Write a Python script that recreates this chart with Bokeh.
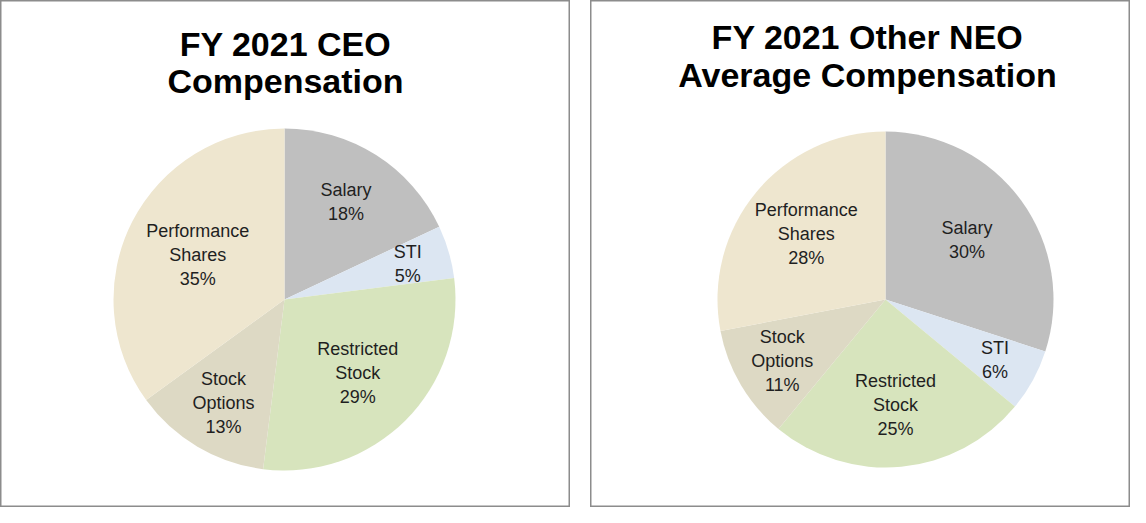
import numpy as np
from bokeh.plotting import figure
from bokeh.layouts import row
from bokeh.models import ColumnDataSource
from bokeh.core.properties import value
from bokeh.embed import file_html
from bokeh.resources import INLINE

# ---- data ----
categories = ["Salary", "STI", "Restricted Stock", "Stock Options", "Performance Shares"]
label_names = ["Salary", "STI", "Restricted\nStock", "Stock\nOptions", "Performance\nShares"]
ceo_values = [18, 5, 29, 13, 35]
neo_values = [30, 6, 25, 11, 28]
ceo_title = ["FY 2021 CEO", "Compensation"]
neo_title = ["FY 2021 Other NEO", "Average Compensation"]
colors = ["#BFBFBF", "#DCE6F2", "#D7E4BD", "#DDD9C4", "#EEE6CF"]

FONT = "Liberation Sans"
H = 507


def pie_panel(width, vals, title_lines, cx, cy, r, title_x, title_ys):
    p = figure(width=width, height=H, x_range=(0, width), y_range=(0, H),
               output_backend="svg", toolbar_location=None,
               x_axis_location=None, y_axis_location=None,
               min_border=0, tools="")
    p.grid.visible = False
    p.outline_line_color = "#8C8C8C"
    p.outline_line_width = 2
    p.background_fill_color = "white"
    p.border_fill_color = "white"

    v = np.array(vals, dtype=float)
    frac = v / v.sum()
    cum_end = np.cumsum(frac)
    cum_start = cum_end - frac
    # clockwise from 12 o'clock
    start = np.pi / 2 - 2 * np.pi * cum_end
    end = np.pi / 2 - 2 * np.pi * cum_start
    mid = (cum_start + cum_end) / 2 * 2 * np.pi
    # smaller slices get their labels pushed further out (best-fit style)
    f = 0.78 - 0.6 * frac
    lx = cx + f * r * np.sin(mid)
    ly = cy + f * r * np.cos(mid)
    labels = [f"{n}\n{int(round(x))}%" for n, x in zip(label_names, vals)]

    src = ColumnDataSource(dict(start=start, end=end, color=colors,
                                lx=lx, ly=ly, label=labels, cat=categories))
    p.wedge(x=cx, y=cy, radius=r, start_angle="start", end_angle="end",
            fill_color="color", line_color=None, source=src)
    p.text(x="lx", y="ly", text="label", source=src,
           text_font=value(FONT), text_font_size="18px", text_color="#1F1F1F",
           text_align="center", text_baseline="middle", text_line_height=1.2)

    tsrc = ColumnDataSource(dict(x=[title_x] * len(title_lines), y=title_ys, t=title_lines))
    p.text(x="x", y="y", text="t", source=tsrc,
           text_font=value(FONT), text_font_style="bold", text_font_size="34px",
           text_color="black", text_align="center", text_baseline="middle")
    return p


left = pie_panel(570, ceo_values, ceo_title, 284, H - 299, 171, 285, [H - 43, H - 80])
right = pie_panel(540, neo_values, neo_title, 295, H - 299, 168, 277, [H - 36, H - 74])

layout = row(left, right, spacing=20)
open("out.html", "w").write(file_html(layout, INLINE))
